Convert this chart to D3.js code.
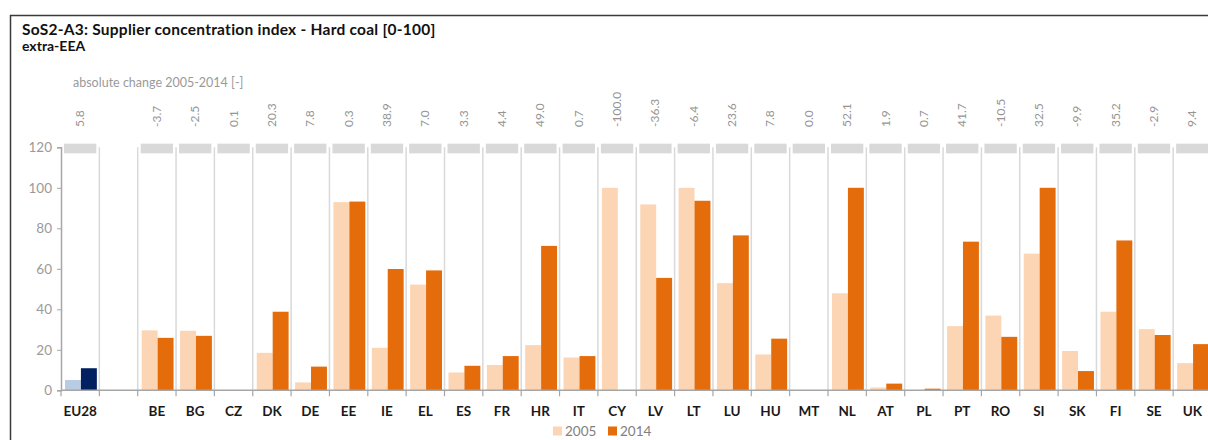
<!DOCTYPE html>
<html>
<head>
<meta charset="utf-8">
<script src="https://cdn.jsdelivr.net/npm/d3@7"></script>
<style>
  body { margin: 0; background: #fff; }
  svg { display: block; font-family: Lato, "Open Sans", sans-serif; }
</style>
</head>
<body>
<div id="chart"></div>
<script>
// categories ("" = empty spacer slot after EU28)
const categories = ["EU28", "", "BE", "BG", "CZ", "DK", "DE", "EE", "IE", "EL", "ES", "FR", "HR", "IT", "CY",
  "LV", "LT", "LU", "HU", "MT", "NL", "AT", "PL", "PT", "RO", "SI", "SK", "FI", "SE", "UK"];
const values2005 = [5.1, null, 29.6, 29.4, 0, 18.5, 3.9, 92.9, 21.0, 52.2, 8.8, 12.5, 22.3, 16.2, 100,
  91.8, 100, 52.9, 17.7, 0, 47.9, 1.4, 0.1, 31.7, 36.9, 67.5, 19.4, 38.8, 30.2, 13.4];
const values2014 = [10.9, null, 25.9, 26.9, 0.1, 38.8, 11.7, 93.2, 59.9, 59.2, 12.1, 16.9, 71.3, 16.9, 0,
  55.5, 93.6, 76.5, 25.5, 0, 100, 3.3, 0.8, 73.4, 26.4, 100, 9.5, 74.0, 27.3, 22.8];
const changeLabels = ["5.8", "", "-3.7", "-2.5", "0.1", "20.3", "7.8", "0.3", "38.9", "7.0", "3.3", "4.4", "49.0", "0.7", "-100.0",
  "-36.3", "-6.4", "23.6", "7.8", "0.0", "52.1", "1.9", "0.7", "41.7", "-10.5", "32.5", "-9.9", "35.2", "-2.9", "9.4"];
const years = ["2005", "2014"];
const yTicks = [0, 20, 40, 60, 80, 100, 120];

const width = 1208, height = 440;
const colors = {
  eu: { "2005": "#b8cce4", "2014": "#002060" },
  ms: { "2005": "#fcd5b5", "2014": "#e46c0a" }
};

const svg = d3.select("#chart").append("svg")
  .attr("width", width)
  .attr("height", height);

// frame
svg.append("path")
  .attr("d", "M10.5,440 V15.5 H1208")
  .attr("fill", "none")
  .attr("stroke", "#3a3a3a")
  .attr("stroke-width", 1.5);

svg.append("text")
  .attr("x", 22).attr("y", 35)
  .attr("font-size", 15.5).attr("font-weight", "bold").attr("fill", "#111")
  .attr("letter-spacing", 0.25)
  .text("SoS2-A3: Supplier concentration index - Hard coal [0-100]");
svg.append("text")
  .attr("x", 22).attr("y", 51)
  .attr("font-size", 14).attr("font-weight", "bold").attr("fill", "#111")
  .text("extra-EEA");

svg.append("text")
  .attr("x", 73).attr("y", 87)
  .attr("font-size", 12.5).attr("fill", "#9a9a9a")
  .text("absolute change 2005-2014 [-]");

const data = categories.map((c, i) => ({
  cat: c, i, key: c || "_blank",
  v2005: values2005[i], v2014: values2014[i], change: changeLabels[i]
}));

const x = d3.scaleBand()
  .domain(data.map(d => d.key))
  .range([61, 61 + 30 * 38.35])
  .padding(0);
const bw = x.bandwidth();
const xs = d3.scaleBand().domain(years).range([4, bw - 2.5]).padding(0);
const y = d3.scaleLinear().domain([0, 120]).range([390.3, 147.3]);

// vertical separators
const g = svg.append("g");
g.selectAll("line.sep")
  .data(data.slice(1))
  .join("line")
  .attr("class", "sep")
  .attr("x1", d => x(d.key)).attr("x2", d => x(d.key))
  .attr("y1", y(120)).attr("y2", y(0))
  .attr("stroke", "#d9d9d9").attr("stroke-width", 1.5);

// grey header boxes
g.selectAll("rect.hdr")
  .data(data.filter(d => d.cat))
  .join("rect")
  .attr("class", "hdr")
  .attr("x", d => x(d.key) + 3)
  .attr("width", bw - 6)
  .attr("y", y(121.8))
  .attr("height", y(117) - y(121.8))
  .attr("fill", "#d9d9d9");

// change labels
g.selectAll("text.chg")
  .data(data.filter(d => d.change))
  .join("text")
  .attr("class", "chg")
  .attr("transform", d => `translate(${x(d.key) + bw / 2 + 4},127) rotate(-90)`)
  .attr("font-size", 12).attr("fill", "#959595")
  .text(d => d.change);

// bars
const bars = data.filter(d => d.cat).flatMap(d => years.map(yr => ({
  key: d.key, yr, v: yr === "2005" ? d.v2005 : d.v2014, eu: d.cat === "EU28"
})));
g.selectAll("rect.bar")
  .data(bars.filter(b => b.v > 0))
  .join("rect")
  .attr("class", "bar")
  .attr("x", b => x(b.key) + xs(b.yr))
  .attr("width", xs.bandwidth())
  .attr("y", b => y(b.v))
  .attr("height", b => y(0) - y(b.v))
  .attr("fill", b => (b.eu ? colors.eu : colors.ms)[b.yr]);

// y axis
const yAxis = svg.append("g")
  .attr("transform", "translate(61,0)")
  .call(d3.axisLeft(y).tickValues(yTicks).tickSize(4).tickPadding(5));
yAxis.select(".domain").attr("stroke", "#a6a6a6").attr("stroke-width", 1.5);
yAxis.selectAll(".tick line").attr("stroke", "#a6a6a6");
yAxis.selectAll(".tick text")
  .attr("font-family", "Lato, sans-serif").attr("font-size", 13.5).attr("fill", "#9a9a9a");

// x axis
svg.append("line")
  .attr("x1", 61).attr("x2", width)
  .attr("y1", y(0)).attr("y2", y(0))
  .attr("stroke", "#a6a6a6").attr("stroke-width", 1.5);
svg.selectAll("line.xtick")
  .data(data)
  .join("line")
  .attr("class", "xtick")
  .attr("x1", d => x(d.key)).attr("x2", d => x(d.key))
  .attr("y1", y(0)).attr("y2", y(0) + 6)
  .attr("stroke", "#a6a6a6").attr("stroke-width", 1.2);
svg.selectAll("text.cat")
  .data(data.filter(d => d.cat))
  .join("text")
  .attr("class", "cat")
  .attr("x", d => x(d.key) + bw / 2)
  .attr("y", 416)
  .attr("text-anchor", "middle")
  .attr("font-size", 13.5).attr("font-weight", "bold").attr("fill", "#1a1a1a")
  .text(d => d.cat);

// legend
const legend = svg.append("g").attr("transform", "translate(553,0)");
const items = legend.selectAll("g")
  .data(years)
  .join("g")
  .attr("transform", (d, i) => `translate(${i * 55},0)`);
items.append("rect")
  .attr("x", 0).attr("y", 426.5).attr("width", 9).attr("height", 9)
  .attr("fill", d => colors.ms[d]);
items.append("text")
  .attr("x", 12).attr("y", 436)
  .attr("font-size", 13.5).attr("fill", "#808080")
  .text(d => d);
</script>
</body>
</html>
